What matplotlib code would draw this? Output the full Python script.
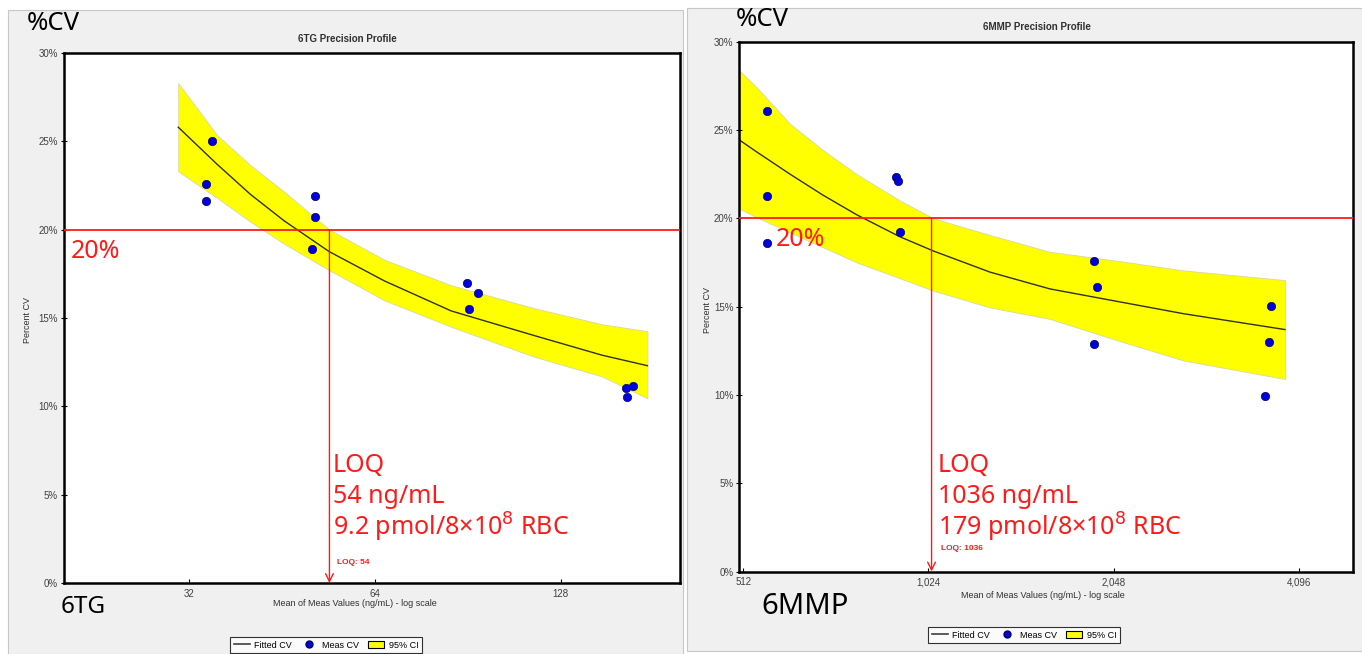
import matplotlib
matplotlib.use("Agg")
import matplotlib.pyplot as plt
from matplotlib.patches import Rectangle, Patch
from matplotlib.lines import Line2D

# ---------------- data ----------------
# 6TG panel
tg_meas_x = [34.8, 34.1, 34.1, 51.2, 51.2, 50.6, 90.3, 93.9, 91.0, 163.3, 168.1, 164.2]
tg_meas_cv = [25.0, 22.6, 21.6, 21.9, 20.7, 18.9, 17.0, 16.4, 15.5, 11.05, 11.15, 10.55]
tg_fit_x = [30.7, 35.5, 40.2, 45.6, 54.0, 66.3, 85.1, 116.2, 149.3, 177.1]
tg_fit_cv = [25.8, 23.7, 22.0, 20.5, 18.75, 17.1, 15.4, 14.0, 12.9, 12.3]
tg_ci_upper = [28.3, 25.35, 23.65, 22.15, 20.0, 18.3, 16.85, 15.55, 14.65, 14.25]
tg_ci_lower = [23.3, 21.8, 20.45, 19.2, 17.7, 16.0, 14.5, 12.8, 11.7, 10.45]
tg_loq = 54
tg_xticks = [32, 64, 128]
tg_xticklabels = ["32", "64", "128"]
tg_xlim = (20, 200)

# 6MMP panel
mmp_meas_x = [560, 560, 560, 908, 913, 920, 1904, 1921, 1904, 3686, 3667, 3605]
mmp_meas_cv = [26.1, 21.25, 18.6, 22.35, 22.1, 19.2, 17.6, 16.1, 12.9, 15.05, 13.0, 9.95]
mmp_fit_x = [504, 539, 610, 691, 783, 921, 1043, 1290, 1614, 2071, 2658, 3888]
mmp_fit_cv = [24.45, 23.75, 22.5, 21.3, 20.2, 18.95, 18.15, 16.95, 16.0, 15.3, 14.6, 13.7]
mmp_ci_upper = [28.4, 27.4, 25.35, 23.85, 22.5, 21.0, 20.0, 19.05, 18.1, 17.6, 17.05, 16.5]
mmp_ci_lower = [20.55, 20.05, 19.2, 18.35, 17.5, 16.6, 15.9, 14.95, 14.3, 13.1, 11.95, 10.9]
mmp_loq = 1036
mmp_xticks = [512, 1024, 2048, 4096]
mmp_xticklabels = ["512", "1,024", "2,048", "4,096"]
mmp_xlim = (504, 5015)

cv_limit = 20
yticks = [0, 5, 10, 15, 20, 25, 30]
yticklabels = ["0%", "5%", "10%", "15%", "20%", "25%", "30%"]

# ---------------- figure ----------------
W, H = 1362, 654
fig = plt.figure(figsize=(W / 100, H / 100), dpi=100)
fig.patch.set_facecolor("white")

def fx(px):
    return px / W

def fy(py):
    return 1 - py / H

# panel backgrounds
fig.patches.append(Rectangle((fx(8), fy(654)), fx(683) - fx(8), fy(10) - fy(654),
                             transform=fig.transFigure, fc="#f0f0f0", ec="#c8c8c8", lw=0.8, zorder=-10))
fig.patches.append(Rectangle((fx(687), fy(651)), fx(1362) - fx(687), fy(8) - fy(651),
                             transform=fig.transFigure, fc="#f0f0f0", ec="#c8c8c8", lw=0.8, zorder=-10))

big_font = ["Noto Sans", "DejaVu Sans"]
small_font = ["Liberation Sans", "DejaVu Sans"]
red = "#ff1a1a"


def panel(rect, meas_x, meas_cv, fit_x, fit_cv, up, lo, loq, xticks, xticklabels, xlim):
    ax = fig.add_axes(rect)
    ax.set_zorder(1)
    ax.set_facecolor("white")
    ax.set_xscale("log", base=2)
    ax.fill_between(fit_x, lo, up, color="#ffff00", ec="#d8d8a0", lw=0.6, zorder=1)
    ax.plot(fit_x, fit_cv, color="#303020", lw=1.0, zorder=2)
    ax.plot(meas_x, meas_cv, "o", color="#0000dd", mec="#000066", mew=0.5, ms=6, zorder=4)
    ax.axhline(cv_limit, color=red, lw=1.3, zorder=3)
    ax.annotate("", xy=(loq, 0), xytext=(loq, cv_limit),
                arrowprops=dict(arrowstyle="->", color=red, lw=1.0,
                                shrinkA=0, shrinkB=0, mutation_scale=14), zorder=3)
    ax.set_xlim(*xlim)
    ax.set_ylim(0, 30)
    ax.set_xticks(xticks)
    ax.set_xticklabels(xticklabels)
    ax.minorticks_off()
    ax.set_yticks(yticks)
    ax.set_yticklabels(yticklabels)
    ax.tick_params(axis="x", direction="in", length=3, width=0.8, labelsize=7,
                   labelcolor="#404040", pad=4)
    ax.tick_params(axis="y", direction="inout", length=4, width=0.8, labelsize=7,
                   labelcolor="#404040", pad=2)
    for lab in ax.get_xticklabels() + ax.get_yticklabels():
        lab.set_family(small_font)
    for s in ax.spines.values():
        s.set_linewidth(1.8)
        s.set_color("black")
    return ax


axL = panel([fx(63.5), fy(583), fx(680) - fx(63.5), fy(53) - fy(583)],
            tg_meas_x, tg_meas_cv, tg_fit_x, tg_fit_cv, tg_ci_upper, tg_ci_lower,
            tg_loq, tg_xticks, tg_xticklabels, tg_xlim)
axR = panel([fx(739), fy(571.5), fx(1353) - fx(739), fy(41.7) - fy(571.5)],
            mmp_meas_x, mmp_meas_cv, mmp_fit_x, mmp_fit_cv, mmp_ci_upper, mmp_ci_lower,
            mmp_loq, mmp_xticks, mmp_xticklabels, mmp_xlim)

# titles
fig.text(fx(347), fy(39), "6TG Precision Profile", ha="center", va="center",
         fontsize=7, fontweight="bold", color="#303030", family=small_font)
fig.text(fx(1037), fy(27), "6MMP Precision Profile", ha="center", va="center",
         fontsize=7, fontweight="bold", color="#303030", family=small_font)

# axis labels
fig.text(fx(28), fy(320), "Percent CV", rotation=90, ha="center", va="center",
         fontsize=6.5, color="#303030", family=small_font)
fig.text(fx(707), fy(310), "Percent CV", rotation=90, ha="center", va="center",
         fontsize=6.5, color="#303030", family=small_font)
xl = "Mean of Meas Values (ng/mL) - log scale"
fig.text(fx(355), fy(604), xl, ha="center", va="center", fontsize=6.5, color="#303030", family=small_font)
fig.text(fx(1043), fy(596), xl, ha="center", va="center", fontsize=6.5, color="#303030", family=small_font)

# big annotations
fig.text(fx(27), fy(23), "%CV", ha="left", va="center", fontsize=18.5, color="black", family=big_font)
fig.text(fx(736), fy(20), "%CV", ha="left", va="center", fontsize=18.5, color="black", family=big_font)
fig.text(fx(71), fy(252), "20%", ha="left", va="center", fontsize=18, color=red, family=big_font)
fig.text(fx(776), fy(240), "20%", ha="left", va="center", fontsize=18, color=red, family=big_font)
fig.text(fx(61), fy(607), "6TG", ha="left", va="center", fontsize=17.5, color="black", family=big_font)
fig.text(fx(761), fy(607), "6MMP", ha="left", va="center", fontsize=21, color="black", family=big_font)

for x0, lines in [(333, ["LOQ", "54 ng/mL", "9.2 pmol/8×10$^{8}$ RBC"]),
                  (938, ["LOQ", "1036 ng/mL", "179 pmol/8×10$^{8}$ RBC"])]:
    for i, t in enumerate(lines):
        fig.text(fx(x0), fy(466 + 30.5 * i), t, ha="left", va="center",
                 fontsize=18, color=red, family=big_font)

fig.text(fx(337), fy(562), "LOQ: 54", ha="left", va="center", fontsize=6,
         fontweight="bold", color=red, family=small_font)
fig.text(fx(941), fy(548), "LOQ: 1036", ha="left", va="center", fontsize=6,
         fontweight="bold", color=red, family=small_font)

# legends
handles = [Line2D([], [], color="#404040", lw=1.2),
           Line2D([], [], ls="", marker="o", color="#0000dd", mec="#000066", ms=5),
           Patch(fc="#ffff00", ec="black", lw=0.8)]
labels = ["Fitted CV", "Meas CV", "95% CI"]
for cx, cy in [(326, 645), (1024, 635)]:
    leg = fig.legend(handles, labels, ncol=3, loc="center", bbox_to_anchor=(fx(cx), fy(cy)),
                     frameon=True, fancybox=False, handlelength=1.8,
                     handletextpad=0.5, columnspacing=1.0, borderpad=0.4,
                     prop={"family": small_font, "size": 6.5})
    leg.get_frame().set_edgecolor("black")
    leg.get_frame().set_linewidth(0.8)

fig.savefig("out.png", dpi=100, facecolor=fig.get_facecolor())
